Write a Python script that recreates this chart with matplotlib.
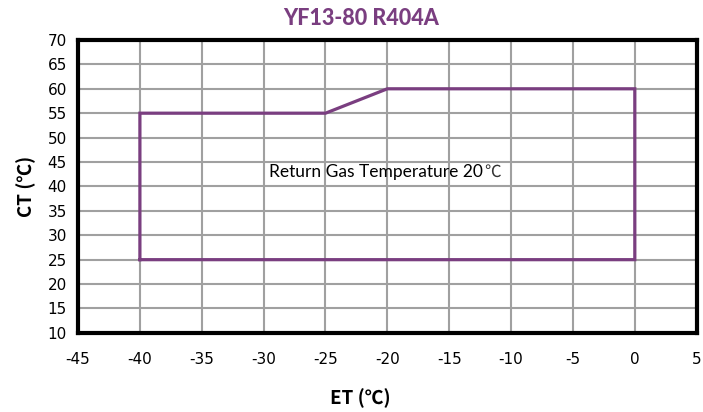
import matplotlib
matplotlib.use("Agg")
import matplotlib.pyplot as plt

plt.rcParams["axes.unicode_minus"] = False

# envelope corners (ET, CT)
et = [-40, -40, -25, -20, 0, 0, -40]
ct = [25, 55, 55, 60, 60, 25, 25]

x_ticks = list(range(-45, 10, 5))
y_ticks = list(range(10, 75, 5))

purple = "#7A3E80"

fig = plt.figure(figsize=(7.03, 4.12), dpi=100)
ax = fig.add_axes([0.111, 0.192, 0.880, 0.711])

ax.plot(et, ct, color=purple, lw=2.3, solid_joinstyle="miter", zorder=3)

ax.set_xlim(-45, 5)
ax.set_ylim(10, 70)
ax.set_xticks(x_ticks)
ax.set_yticks(y_ticks)
ax.grid(True, color="#a0a0a0", lw=1.5)
ax.tick_params(length=0, labelsize=11, pad=8)
ax.tick_params(axis="x", pad=14)
for s in ax.spines.values():
    s.set_linewidth(3)
    s.set_color("black")

t = ax.text(-29.6, 43, "Return Gas Temperature 20", fontsize=12.5,
            ha="left", va="center", family="Lato")
ax.annotate("\u2103", xy=(1, 0.5), xycoords=t, xytext=(1, 0),
            textcoords="offset points", fontsize=12, ha="left", va="center",
            family="Noto Sans CJK SC", color="#333333")

fig.text(0.514, 0.955, "YF13-80 R404A", color=purple, fontsize=15.5,
         fontweight="black", family="Lato", ha="center", va="center")
ax.set_xlabel("ET (\u2103)", fontsize=13.5, fontweight="bold",
              family="Noto Sans CJK SC")
ax.xaxis.set_label_coords(0.456, -0.19)
ax.set_ylabel("CT (\u2103)", fontsize=13.5, fontweight="bold", labelpad=8,
              family="Noto Sans CJK SC")

fig.savefig("out.png", dpi=100)
